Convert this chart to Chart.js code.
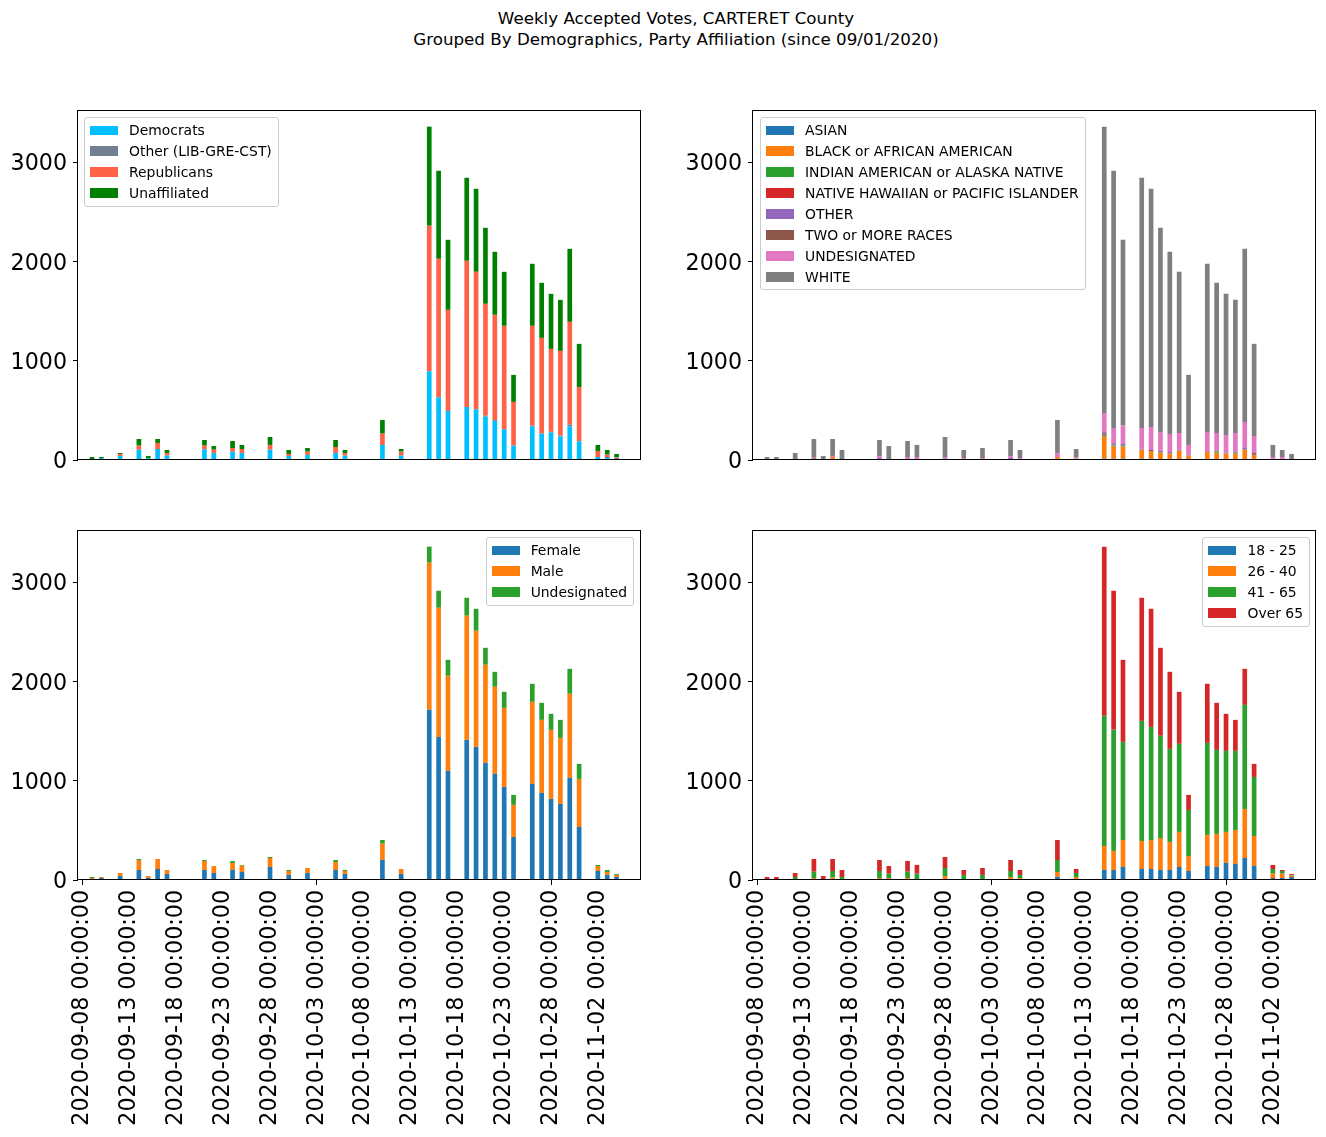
<!DOCTYPE html>
<html>
<head>
<meta charset="utf-8">
<script src="https://cdn.jsdelivr.net/npm/chart.js@4.4.1/dist/chart.umd.min.js"></script>
<style>
  body { margin: 0; background: #fff; font-family: 'DejaVu Sans', sans-serif; }
  #page { position: relative; width: 1326px; height: 1137px; overflow: hidden; }
  .title { position: absolute; left: 13px; top: 8px; width: 1326px; text-align: center; font-size: 16.7px; line-height: 21px; color: #000; }
  .panel { position: absolute; }
  .legend { position: absolute; background: rgba(255,255,255,0.8); border: 1px solid #ccc; border-radius: 3px; padding: 2px 6px 2px 5px; font-size: 13.9px; color: #000; }
  .legend .row { height: 20.9px; display: flex; align-items: center; white-space: nowrap; }
  .legend .sw { display: inline-block; width: 28px; height: 9.7px; margin-right: 11px; }
</style>
</head>
<body>
<div id="page">
  <div class="title">Weekly Accepted Votes, CARTERET County<br>Grouped By Demographics, Party Affiliation (since 09/01/2020)</div>
  <div class="panel" style="left:0;top:100px;width:650px;height:380px"><canvas id="party"></canvas></div>
  <div class="panel" style="left:675px;top:100px;width:650px;height:380px"><canvas id="race"></canvas></div>
  <div class="panel" style="left:0;top:520px;width:650px;height:617px"><canvas id="gender"></canvas></div>
  <div class="panel" style="left:675px;top:520px;width:650px;height:617px"><canvas id="age"></canvas></div>
</div>
<script>
// days, 2020-09-08 .. 2020-11-06
const dates = [
  '2020-09-08','2020-09-09','2020-09-10','2020-09-11','2020-09-12','2020-09-13','2020-09-14','2020-09-15','2020-09-16','2020-09-17',
  '2020-09-18','2020-09-19','2020-09-20','2020-09-21','2020-09-22','2020-09-23','2020-09-24','2020-09-25','2020-09-26','2020-09-27',
  '2020-09-28','2020-09-29','2020-09-30','2020-10-01','2020-10-02','2020-10-03','2020-10-04','2020-10-05','2020-10-06','2020-10-07',
  '2020-10-08','2020-10-09','2020-10-10','2020-10-11','2020-10-12','2020-10-13','2020-10-14','2020-10-15','2020-10-16','2020-10-17',
  '2020-10-18','2020-10-19','2020-10-20','2020-10-21','2020-10-22','2020-10-23','2020-10-24','2020-10-25','2020-10-26','2020-10-27',
  '2020-10-28','2020-10-29','2020-10-30','2020-10-31','2020-11-01','2020-11-02','2020-11-03','2020-11-04','2020-11-05','2020-11-06'
];
const yTicks = [0, 1000, 2000, 3000];

// party
const partyNames = ['Democrats', 'Other (LIB-GRE-CST)', 'Republicans', 'Unaffiliated'];
const democrats = [10,10,20,10,40,0,104,17,111,44, 0,0,0,108,71,0,84,71,0,0, 104,0,40,0,51,0,0,71,44,0,
  0,0,152,0,44,0,0,896,633,495, 0,535,512,438,394,310,145,0,337,266, 279,236,337,189,0,30,20,10,0,0];
const otherParty = [0,0,0,0,0,0,0,0,0,0, 0,0,0,0,0,0,0,0,0,0, 0,0,0,0,0,0,0,0,0,0,
  0,0,0,0,0,0,0,0,0,0, 0,0,0,10,10,0,0,0,10,0, 5,10,20,0,0,0,10,14,0,0];
const republicans = [0,0,0,0,21,0,41,0,61,27, 0,0,0,37,33,0,37,40,0,0, 48,0,21,0,33,0,0,60,27,10,
  0,0,114,0,40,10,10,1468,1397,1020, 0,1475,1387,1128,1061,1044,441,0,1007,966, 837,855,1037,548,0,61,24,6,0,0];
const unaffiliated = [0,20,10,0,10,0,67,23,40,30, 0,0,0,57,37,0,71,41,0,0, 80,0,40,0,37,0,0,71,30,0,
  0,10,138,0,27,0,0,1000,889,707, 0,838,838,767,636,545,273,0,626,556, 556,515,737,435,10,61,47,31,0,0];

// race
const raceNames = ['ASIAN', 'BLACK or AFRICAN AMERICAN', 'INDIAN AMERICAN or ALASKA NATIVE',
  'NATIVE HAWAIIAN or PACIFIC ISLANDER', 'OTHER', 'TWO or MORE RACES', 'UNDESIGNATED', 'WHITE'];
const asian = [0,0,0,0,0,0,0,0,0,0, 0,0,0,0,0,0,0,0,0,0, 0,0,0,0,0,0,0,0,0,0,
  0,0,5,0,0,0,0,13,13,13, 0,13,13,10,10,10,7,0,10,10, 10,10,10,10,0,0,0,0,0,0];
const black = [0,0,0,10,0,0,10,0,30,10, 0,0,0,10,0,0,10,10,0,0, 10,0,0,0,10,0,0,10,10,0,
  0,0,25,0,13,0,0,229,122,122, 0,91,71,64,54,84,37,0,64,64, 54,54,94,41,0,10,10,0,0,0];
const indian = [0,0,0,0,0,0,0,0,0,0, 0,0,0,0,0,0,0,0,0,0, 0,0,0,0,0,0,0,0,0,0,
  0,0,0,0,0,0,0,10,10,10, 0,0,0,0,0,0,0,0,0,14, 0,10,0,0,0,0,0,0,0,0];
const hawaiian = [0,0,0,0,0,0,0,0,0,0, 0,0,0,0,0,0,0,0,0,0, 0,0,0,0,0,0,0,0,0,0,
  0,0,0,0,0,0,0,3,0,0, 0,0,0,0,0,0,0,0,10,0, 0,0,0,0,0,0,0,0,0,0];
const otherRace = [0,0,7,0,0,0,0,0,0,0, 0,0,0,10,0,0,0,0,0,0, 7,0,0,0,0,0,0,10,0,0,
  0,0,0,0,0,0,0,17,13,17, 0,10,0,20,17,10,10,0,0,6, 10,10,21,10,0,0,0,10,0,0];
const twoRaces = [0,0,0,0,0,0,7,0,0,0, 0,0,0,0,0,0,0,0,0,0, 0,0,0,0,0,0,0,0,0,0,
  0,0,0,0,0,0,0,8,10,0, 0,0,17,0,0,0,0,0,0,0, 0,0,0,10,0,0,0,0,0,0];
const undesRace = [0,10,0,0,10,0,13,0,10,0, 0,0,0,20,10,0,20,20,0,0, 13,0,20,0,10,0,0,20,10,0,
  0,0,41,0,11,0,10,195,155,185, 0,209,232,189,182,169,98,0,199,179, 178,189,259,171,10,20,20,0,0,0];
const white = [10,20,23,0,61,0,182,40,172,91, 0,0,0,162,131,0,162,122,0,0, 202,0,81,0,101,0,0,162,81,10,
  0,10,333,0,87,10,0,2889,2596,1875, 0,2525,2404,2060,1838,1626,707,0,1697,1515, 1425,1343,1747,930,0,122,71,51,0,0];

// gender
const genderNames = ['Female', 'Male', 'Undesignated'];
const female = [0,10,20,0,40,0,101,20,111,61, 0,0,0,101,71,0,101,81,0,0, 131,0,51,0,71,0,0,101,61,10,
  0,0,202,0,61,0,10,1717,1444,1101, 0,1414,1343,1182,1071,939,434,0,970,879, 818,768,1030,535,0,91,51,30,0,0];
const male = [10,10,10,10,31,0,101,20,101,40, 0,0,0,91,70,0,71,64,0,0, 91,0,40,0,50,0,0,81,30,0,
  0,0,165,0,50,0,0,1485,1303,960, 0,1253,1172,990,879,798,324,0,828,737, 697,666,849,485,10,50,30,21,0,0];
const undesGender = [0,10,0,0,0,0,10,0,0,0, 0,0,0,10,0,0,20,7,0,0, 10,0,10,0,0,0,0,20,10,0,
  0,10,37,0,0,10,0,162,172,161, 0,181,222,171,151,162,101,0,182,172, 162,182,252,152,0,11,20,10,0,0];

// age
const ageNames = ['18 - 25', '26 - 40', '41 - 65', 'Over 65'];
const age18 = [0,0,0,0,0,0,0,0,10,0, 0,0,0,0,10,0,10,0,0,0, 10,0,10,0,0,0,0,10,10,0,
  0,0,30,0,10,0,0,101,101,131, 0,111,111,101,101,131,91,0,141,131, 172,162,222,141,0,20,20,30,0,0];
const age26 = [0,0,0,0,10,0,20,0,14,10, 0,0,0,20,10,0,10,10,0,0, 30,0,0,0,10,0,0,20,10,0,
  0,0,51,0,20,0,10,242,192,273, 0,283,293,323,283,354,151,0,314,334, 313,343,495,303,10,44,44,14,0,0];
const age41 = [0,10,10,0,20,0,64,10,67,20, 0,0,0,71,44,0,64,54,0,0, 81,0,41,0,41,0,0,61,31,10,
  0,10,121,0,41,10,0,1314,1222,990, 0,1212,1141,1031,939,889,465,0,929,848, 818,798,1051,596,0,47,27,7,0,0];
const age65 = [10,20,20,10,41,0,128,30,121,71, 0,0,0,111,77,0,108,88,0,0, 111,0,50,0,70,0,0,111,50,0,
  0,0,202,0,40,0,0,1707,1404,828, 0,1242,1192,888,778,525,152,0,596,475, 374,313,363,132,0,41,10,10,0,0];

const tab10 = ['#1f77b4', '#ff7f0e', '#2ca02c', '#d62728', '#9467bd', '#8c564b', '#e377c2', '#7f7f7f'];

Chart.defaults.font.family = "'DejaVu Sans', sans-serif";
Chart.defaults.color = '#000';

// matplotlib-style box around the axes
const frame = {
  id: 'frame',
  afterDatasetsDraw(chart) {
    const a = chart.chartArea;
    const ctx = chart.ctx;
    ctx.save();
    ctx.strokeStyle = '#000';
    ctx.lineWidth = 1;
    ctx.strokeRect(Math.round(a.left) - 0.5, Math.round(a.top) + 0.5,
      Math.round(a.right - a.left) + 1, Math.round(a.bottom - a.top) - 1);
    ctx.restore();
  }
};

function addLegend(names, colors, pos) {
  const box = document.createElement('div');
  box.className = 'legend';
  Object.assign(box.style, pos);
  names.forEach((n, i) => {
    const row = document.createElement('div');
    row.className = 'row';
    const sw = document.createElement('span');
    sw.className = 'sw';
    sw.style.background = colors[i];
    row.appendChild(sw);
    row.appendChild(document.createTextNode(n));
    box.appendChild(row);
  });
  document.getElementById('page').appendChild(box);
}

function makeChart(id, names, colors, series, showX, legendPos) {
  new Chart(document.getElementById(id), {
    type: 'bar',
    data: {
      labels: dates.map(d => d + ' 00:00:00'),
      datasets: series.map((s, i) => ({
        label: names[i],
        data: s,
        backgroundColor: colors[i],
        borderWidth: 0,
        barPercentage: 0.5,
        categoryPercentage: 1.0
      }))
    },
    options: {
      responsive: true,
      maintainAspectRatio: false,
      animation: false,
      layout: { padding: { left: 0, right: 10, top: 10, bottom: 0 } },
      plugins: { legend: { display: false }, tooltip: { enabled: false } },
      scales: {
        x: {
          stacked: true,
          border: { display: false },
          grid: {
            display: showX,
            offset: false,
            drawOnChartArea: false,
            tickLength: 5,
            tickColor: c => (c.index % 5 === 0 ? '#000' : 'rgba(0,0,0,0)')
          },
          ticks: {
            display: showX,
            autoSkip: false,
            minRotation: 90,
            maxRotation: 90,
            padding: 5,
            font: { size: 22.2 },
            callback: (v, i) => (i % 5 === 0 ? dates[i] + ' 00:00:00' : null)
          },
          afterFit: s => { s.height = showX ? 257 : 20; s.paddingLeft = 0; s.paddingRight = 0; }
        },
        y: {
          stacked: true,
          min: 0,
          max: 3532,
          border: { display: false },
          grid: { drawOnChartArea: false, tickLength: 5, tickColor: '#000' },
          ticks: { padding: 6, labelOffset: 2, font: { size: 22.2 }, callback: v => String(v) },
          afterBuildTicks: s => { s.ticks = yTicks.map(v => ({ value: v })); },
          afterFit: s => { s.width = 78; s.paddingTop = 0; s.paddingBottom = 0; }
        }
      }
    },
    plugins: [frame]
  });
  addLegend(names, colors, legendPos);
}

makeChart('party', partyNames, ['#00bfff', '#708090', '#ff6347', '#008000'],
  [democrats, otherParty, republicans, unaffiliated], false, { left: '84px', top: '117px' });
makeChart('race', raceNames, tab10,
  [asian, black, indian, hawaiian, otherRace, twoRaces, undesRace, white], false, { left: '760px', top: '117px' });
makeChart('gender', genderNames, tab10.slice(0, 3),
  [female, male, undesGender], true, { right: '692px', top: '537px' });
makeChart('age', ageNames, tab10.slice(0, 4),
  [age18, age26, age41, age65], true, { right: '16px', top: '537px' });
</script>
</body>
</html>
